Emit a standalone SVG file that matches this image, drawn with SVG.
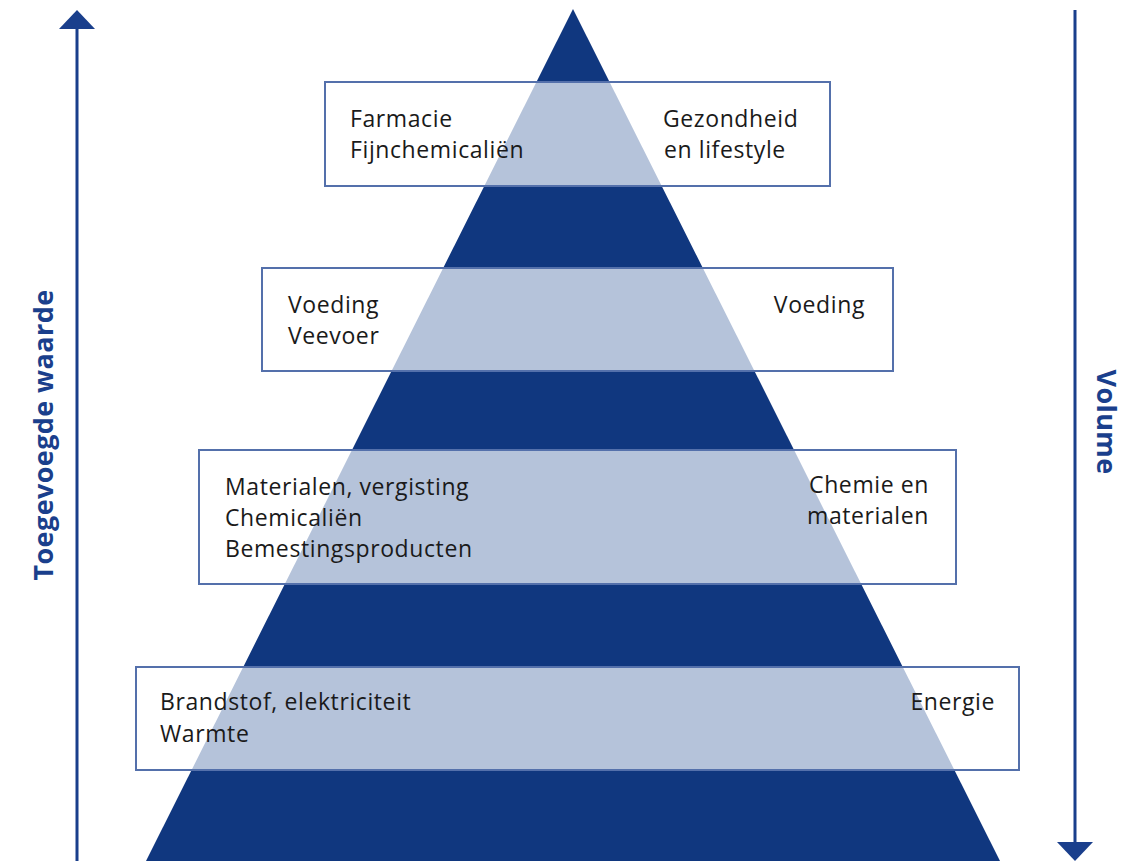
<svg xmlns="http://www.w3.org/2000/svg" width="1141" height="861" viewBox="0 0 1141 861">
<style>
.t{font-family:"Open Sans","Noto Sans",sans-serif;font-size:23px;letter-spacing:0.6px;fill:#1a1a1a}
.ax{font-family:"Open Sans","Noto Sans",sans-serif;font-size:27px;font-weight:bold;letter-spacing:0.4px;fill:#1a3f8c}
.box{fill:none;stroke:#5470ab;stroke-width:2}
.lt{fill:#b5c3da}
</style>
<defs>
<clipPath id="tri"><polygon points="573,9 146,861 1000,861"/></clipPath>
</defs>
<rect width="1141" height="861" fill="#ffffff"/>
<polygon id="pyramid" points="573,9 146,861 1000,861" fill="#10377f"/>
<g id="connectors">
<line x1="77" y1="861" x2="77" y2="26" stroke="#1a3f8c" stroke-width="3"/>
<polygon points="77,10 59,29 95,29" fill="#1a3f8c"/>
<line x1="1075" y1="10" x2="1075" y2="844" stroke="#1a3f8c" stroke-width="3"/>
<polygon points="1075,861 1057,842 1093,842" fill="#1a3f8c"/>
</g>
<g id="box1">
<rect x="325" y="82" width="505" height="104" fill="#ffffff"/>
<rect x="325" y="82" width="505" height="104" class="lt" clip-path="url(#tri)"/>
<rect x="325" y="82" width="505" height="104" class="box"/>
<text class="t" x="350" y="127">Farmacie</text>
<text class="t" x="350" y="158">Fijnchemicaliën</text>
<text class="t" x="663" y="127">Gezondheid</text>
<text class="t" x="664" y="158">en lifestyle</text>
</g>
<g id="box2">
<rect x="262" y="268" width="631" height="103" fill="#ffffff"/>
<rect x="262" y="268" width="631" height="103" class="lt" clip-path="url(#tri)"/>
<rect x="262" y="268" width="631" height="103" class="box"/>
<text class="t" x="288" y="313">Voeding</text>
<text class="t" x="288" y="344">Veevoer</text>
<text class="t" x="865" y="313" text-anchor="end">Voeding</text>
</g>
<g id="box3">
<rect x="199" y="450" width="757" height="134" fill="#ffffff"/>
<rect x="199" y="450" width="757" height="134" class="lt" clip-path="url(#tri)"/>
<rect x="199" y="450" width="757" height="134" class="box"/>
<text class="t" x="225" y="495">Materialen, vergisting</text>
<text class="t" x="225" y="526">Chemicaliën</text>
<text class="t" x="225" y="557">Bemestingsproducten</text>
<text class="t" x="929" y="493" text-anchor="end">Chemie en</text>
<text class="t" x="929" y="524" text-anchor="end">materialen</text>
</g>
<g id="box4">
<rect x="136" y="667" width="883" height="103" fill="#ffffff"/>
<rect x="136" y="667" width="883" height="103" class="lt" clip-path="url(#tri)"/>
<rect x="136" y="667" width="883" height="103" class="box"/>
<text class="t" x="160" y="710">Brandstof, elektriciteit</text>
<text class="t" x="160" y="742">Warmte</text>
<text class="t" x="995" y="710" text-anchor="end">Energie</text>
</g>
<g id="labels">
<text class="ax" transform="translate(53,435) rotate(-90)" text-anchor="middle">Toegevoegde waarde</text>
<text class="ax" transform="translate(1097,422) rotate(90)" text-anchor="middle">Volume</text>
</g>
</svg>
